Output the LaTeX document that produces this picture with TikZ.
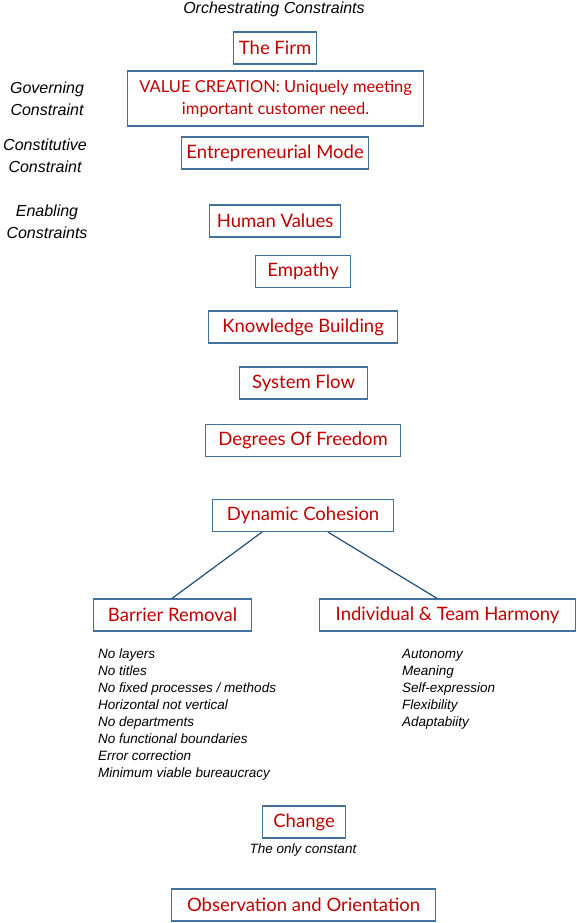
\documentclass[tikz,border=0pt]{standalone}
\usepackage{fontspec}
\setmainfont{Liberation Sans}
\newfontfamily\boxfont{Lato}
\definecolor{boxred}{RGB}{192,0,0}
\definecolor{boxedge}{RGB}{65,113,156}
\definecolor{linkblue}{RGB}{31,78,121}
\begin{document}
\begin{tikzpicture}[x=1pt, y=-1pt,
			cbox/.style={draw=boxedge, line width=1.2pt, text=boxred, anchor=west, minimum height=32pt,
				inner xsep=4pt, align=center, font=\boxfont\fontsize{18.5}{22}\selectfont},
			side/.style={align=center, font=\fontsize{16}{22}\selectfont\itshape},
			notes/.style={align=left, anchor=north west, inner sep=0pt, font=\fontsize{13.5}{17}\selectfont\itshape},
			link/.style={draw=linkblue, line width=1.2pt}]
			\useasboundingbox (0,0) rectangle (576,923);
			\node[side] (orch) at (274, 9) {Orchestrating Constraints};
			\node[side] (gov) at (47, 99) {Governing\\Constraint};
			\node[side] (const) at (45, 156) {Constitutive\\Constraint};
			\node[side] (enab) at (47, 222) {Enabling\\Constraints};
			\node[cbox, minimum width=83pt] (firm) at (233, 48) {The Firm};
			\node[cbox, minimum width=296pt, minimum height=55pt, font=\boxfont\fontsize{16.5}{22}\selectfont] (value) at (127, 98.5) {VALUE CREATION: Uniquely meeting\\important customer need.};
			\node[cbox, minimum width=187pt] (entre) at (181, 153) {Entrepreneurial Mode};
			\node[cbox, minimum width=131pt] (human) at (209, 221) {Human Values};
			\node[cbox, minimum width=95pt] (empathy) at (255, 271.5) {Empathy};
			\node[cbox, minimum width=189pt] (know) at (208, 327) {Knowledge Building};
			\node[cbox, minimum width=128pt] (flow) at (239, 383) {System Flow};
			\node[cbox, minimum width=195pt] (dof) at (205, 440.5) {Degrees Of Freedom};
			\node[cbox, minimum width=181pt] (dyn) at (212, 515.5) {Dynamic Cohesion};
			\node[cbox, minimum width=158pt] (barrier) at (93, 615) {Barrier Removal};
			\node[cbox, minimum width=256pt] (harmony) at (319, 615) {Individual \& Team Harmony};
			\draw[link] ([xshift=50pt]dyn.south west) -- ([xshift=79pt]barrier.north west);
			\draw[link] ([xshift=116pt]dyn.south west) -- ([xshift=118pt]harmony.north west);
			\node[notes] (barriernotes) at (98, 649) {No layers\\No titles\\No fixed processes / methods\\Horizontal not vertical\\No departments\\No functional boundaries\\Error correction\\Minimum viable bureaucracy};
			\node[notes] (harmonynotes) at (402, 649) {Autonomy\\Meaning\\Self-expression\\Flexibility\\Adaptabiity};
			\node[cbox, minimum width=83pt] (change) at (262, 822) {Change};
			\node[font=\fontsize{13.5}{17}\selectfont\itshape] (constant) at (303, 850) {The only constant};
			\node[cbox, minimum width=264pt] (obs) at (171, 905) {Observation and Orientation};
		\end{tikzpicture}
\end{document}
